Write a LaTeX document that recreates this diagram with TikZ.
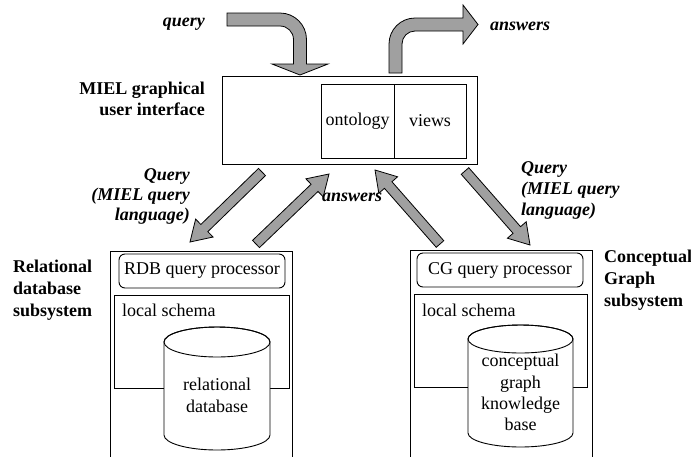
\documentclass[tikz,border=0pt]{standalone}
\usepackage{fontspec}
\setmainfont{Liberation Serif}
\usetikzlibrary{calc}
\definecolor{arrowgray}{RGB}{160,160,160}
\tikzset{
  every node/.style={font=\fontsize{18}{21.5}\selectfont, inner sep=0pt},
  box/.style={draw, line width=0.9pt, fill=white},
  rbox/.style={draw, line width=0.9pt, rounded corners=6pt},
  fatarrow/.style={fill=arrowgray, draw=black, line width=0.8pt, line join=miter},
  lbl/.style={font=\fontsize{18}{22}\selectfont\bfseries},
  ilbl/.style={font=\fontsize{18}{20.7}\selectfont\bfseries\itshape},
  cyl/.style={draw, fill=white, line width=0.9pt}
}
\newcommand\fatarr[2]{%
  \path ($(#2)!20pt!(#1)$) coordinate (fah);
  \filldraw[fatarrow] ($(#1)!5pt!90:(#2)$) -- ($(fah)!5pt!90:(#2)$) -- ($(fah)!12.5pt!90:(#2)$) -- (#2) -- ($(fah)!12.5pt!-90:(#2)$) -- ($(fah)!5pt!-90:(#2)$) -- ($(#1)!5pt!-90:(#2)$) -- cycle;}
\newcommand\cylshape[6]{% x1 x2 ytop ybot rx ry
  \filldraw[cyl] (#1,#3) -- (#1,#4) arc[start angle=180, end angle=360, x radius=#5pt, y radius=#6pt] -- (#2,#3) arc[start angle=0, end angle=180, x radius=#5pt, y radius=#6pt] -- cycle;
  \draw[line width=0.9pt] ($(#1,#3)!0.5!(#2,#3)$) ellipse [x radius=#5pt, y radius=#6pt];}
\begin{document}
\begin{tikzpicture}[x=1pt, y=-1pt]
\useasboundingbox[fill=white] (0,0) rectangle (691,456);

% GUI
\node[box, minimum width=255, minimum height=88] (gui) at (349.5,120) {};
\node[box, minimum width=73, minimum height=74] (ont) at (357.5,121) {ontology};
\node[box, minimum width=72, minimum height=74] (views) at (430,121) {views};
\node[lbl, font=\fontsize{18}{21}\selectfont\bfseries, align=right, anchor=base east] (guilbl) at (205,115) {MIEL graphical\\user interface};

% top curved arrows
\filldraw[fatarrow] (227,13) -- (280,13) arc[start angle=90, end angle=0, radius=26.5pt]
  -- (306.5,64) -- (328,64) -- (300,75) -- (272,64) -- (293.5,64) -- (293.5,39.5)
  arc[start angle=0, end angle=90, radius=13.5pt] -- (227,26) -- cycle;
\node[ilbl, anchor=base east] (qtop) at (205,26) {query};

\filldraw[fatarrow] (389,73) -- (389,44) arc[start angle=180, end angle=90, radius=26pt]
  -- (463,18) -- (463,5) -- (478,24.5) -- (463,44) -- (463,31) -- (415,31)
  arc[start angle=90, end angle=180, radius=13pt] -- (402,73) -- cycle;
\node[ilbl, anchor=base west] (atop) at (490,30) {answers};

% left subsystem
\draw[line width=0.9pt] (110,470) -- (110,251) -- (292,251) -- (292,470);
\node[rbox, minimum width=166, minimum height=34] (rdbqp) at (202,271) {RDB query processor};
\node[box, minimum width=175, minimum height=93] (lsl) at (201.5,341.5) {};
\node[anchor=base west] (lsltxt) at (122,316.7) {local schema};
\cylshape{164}{270}{342}{435}{53}{15}
\node[font=\fontsize{18}{22.5}\selectfont, align=center, anchor=base] (rdb) at (217,412.7) {relational\\database};
\node[lbl, align=left, anchor=base west] (rellbl) at (13,316.7) {Relational\\database\\subsystem};

% right subsystem
\draw[line width=0.9pt] (410,470) -- (410,250) -- (592,250) -- (592,470);
\node[rbox, minimum width=166, minimum height=34] (cgqp) at (500,270) {CG query processor};
\node[box, minimum width=173, minimum height=93] (lsr) at (500.5,340.5) {};
\node[anchor=base west] (lsrtxt) at (422,316) {local schema};
\cylshape{468}{573}{339}{433}{52.5}{14}
\node[font=\fontsize{18}{21.3}\selectfont, align=center, anchor=base] (cgkb) at (520.5,430.7) {conceptual\\graph\\knowledge\\base};
\node[lbl, align=left, anchor=base west] (cglbl) at (604,306.7) {Conceptual\\Graph\\subsystem};

% diagonal arrows
\coordinate (a1s) at (262,172); \coordinate (a1e) at (190,242);
\coordinate (a2s) at (256,244); \coordinate (a2e) at (329,174);
\coordinate (a3s) at (440,244); \coordinate (a3e) at (375,170);
\coordinate (a4s) at (465,171); \coordinate (a4e) at (530,245);
\fatarr{a1s}{a1e}
\fatarr{a2s}{a2e}
\fatarr{a3s}{a3e}
\fatarr{a4s}{a4e}

\node[ilbl, font=\fontsize{18}{20}\selectfont\bfseries\itshape, align=right, anchor=base east] (qleft) at (190,220) {Query\\(MIEL query\\language)};
\node[ilbl, anchor=base west] (amid) at (322,201.7) {answers};
\node[ilbl, font=\fontsize{18}{21}\selectfont\bfseries\itshape, align=left, anchor=base west] (qright) at (521,215) {Query\\(MIEL query\\language)};
\end{tikzpicture}
\end{document}
